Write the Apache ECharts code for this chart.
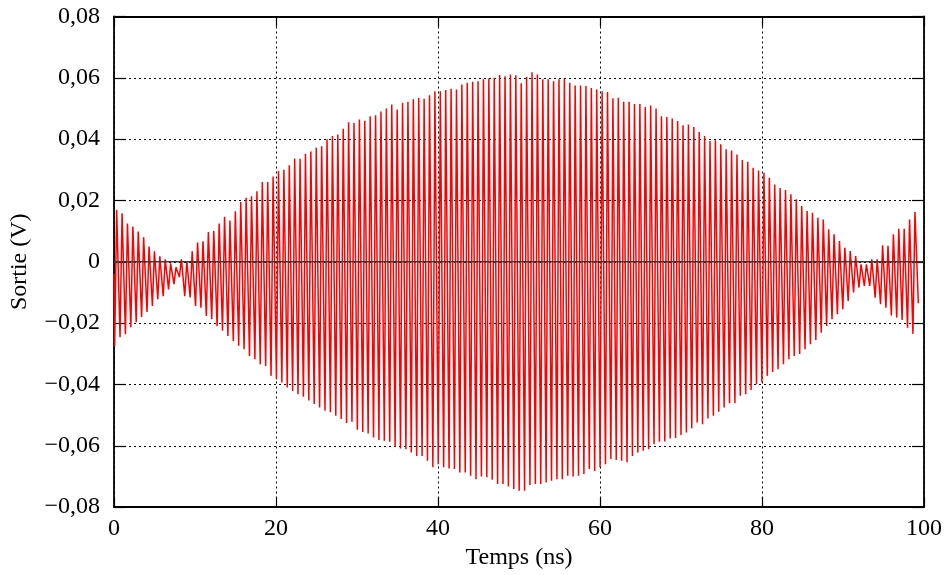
<!DOCTYPE html>
<html>
<head>
<meta charset="utf-8">
<script src="https://cdn.jsdelivr.net/npm/echarts@6/dist/echarts.min.js"></script>
<style>
html,body{margin:0;padding:0;background:#fff;}
#chart{width:945px;height:575px;}
</style>
</head>
<body>
<div id="chart"></div>
<script>
// ---- Data ----
// Oscillation: successive troughs and crests (one pair per cycle), values in volts
const crests = [
 0.017,0.0158,0.0125,0.0115,0.0099,0.008,0.005,0.0034,0.0018,0.0008,
 -0.0005,-0.0018,0.0008,0.0002,0.0034,0.0063,0.0067,0.0097,0.010,0.0125,
 0.0147,0.0135,0.0165,0.0195,0.0209,0.0214,0.023,0.026,0.026,0.0278,
 0.0296,0.030,0.0315,0.0337,0.0336,0.0352,0.036,0.0372,0.0377,0.040,
 0.041,0.0415,0.0434,0.0455,0.0453,0.0464,0.046,0.0475,0.0478,0.049,
 0.050,0.0513,0.0497,0.0519,0.0522,0.053,0.0534,0.0532,0.0543,0.0556,
 0.0556,0.056,0.0564,0.0562,0.0578,0.0584,0.0587,0.0589,0.0595,0.0598,
 0.060,0.0609,0.0605,0.0611,0.0608,0.0582,0.0603,0.0618,0.0611,0.0595,
 0.0595,0.0589,0.0595,0.0597,0.0584,0.0575,0.0575,0.0573,0.0567,0.0562,
 0.0556,0.0554,0.0533,0.0535,0.0522,0.0522,0.0515,0.0515,0.0505,0.051,
 0.050,0.0475,0.0472,0.0467,0.0459,0.0445,0.0448,0.044,0.0423,0.041,
 0.0394,0.0396,0.0383,0.0367,0.0363,0.035,0.0332,0.0326,0.0307,0.0298,
 0.029,0.0274,0.0252,0.0241,0.0234,0.022,0.0204,0.0182,0.0166,0.016,
 0.0144,0.0138,0.0106,0.009,0.0068,0.0046,0.0035,0.0019,-0.0008,-0.0008,
 0.0008,0.0008,0.0054,0.0052,0.009,0.0108,0.0108,0.0138,0.0162
];
const troughs = [
 -0.0276,-0.0246,-0.0236,-0.0213,-0.0197,-0.018,-0.0164,-0.0144,-0.0122,-0.0112,
 -0.009,-0.0073,-0.005,-0.0112,-0.0116,-0.0144,-0.015,-0.0177,-0.0187,-0.021,
 -0.0225,-0.0242,-0.0258,-0.0274,-0.0285,-0.0307,-0.0318,-0.0334,-0.034,-0.0372,
 -0.0383,-0.0394,-0.041,-0.0421,-0.0432,-0.044,-0.0452,-0.0464,-0.0475,-0.0486,
 -0.0491,-0.0502,-0.0513,-0.0526,-0.0522,-0.0548,-0.0555,-0.056,-0.0573,-0.0581,
 -0.0584,-0.0587,-0.0603,-0.0609,-0.0611,-0.0622,-0.0633,-0.0633,-0.0649,-0.067,
 -0.066,-0.067,-0.0674,-0.0676,-0.0687,-0.0687,-0.0698,-0.0709,-0.070,-0.0703,
 -0.0711,-0.0725,-0.0725,-0.0733,-0.0741,-0.0747,-0.0747,-0.0728,-0.0725,-0.0725,
 -0.072,-0.0714,-0.0709,-0.0709,-0.0698,-0.070,-0.0698,-0.0692,-0.0676,-0.0682,
 -0.067,-0.066,-0.0643,-0.0646,-0.0649,-0.0654,-0.0633,-0.0622,-0.0616,-0.0611,
 -0.0595,-0.0587,-0.0586,-0.0576,-0.0575,-0.0565,-0.0557,-0.0543,-0.0524,-0.053,
 -0.0511,-0.0502,-0.0489,-0.0475,-0.0461,-0.0461,-0.0437,-0.0432,-0.0418,-0.0399,
 -0.0394,-0.0372,-0.0359,-0.035,-0.0334,-0.0318,-0.0307,-0.0301,-0.0285,-0.0269,
 -0.0255,-0.0231,-0.0209,-0.0187,-0.0171,-0.0155,-0.0128,-0.010,-0.0084,-0.0079,
 -0.0079,-0.0117,-0.0138,-0.015,-0.0175,-0.0182,-0.019,-0.0215,-0.0235
];
// timing (ns)
const firstCrestTime = 0.33;   // time of first crest
const cyclePeriod = 0.6659;    // time between crests
const troughLead = 0.25;       // trough occurs this long before its crest
const startPoint = [0, -0.004];
const endPoint = [99.3, -0.0135];

const xTicks = [0, 20, 40, 60, 80, 100];
const yTicks = [-0.08, -0.06, -0.04, -0.02, 0, 0.02, 0.04, 0.06, 0.08];
const xTitle = 'Temps (ns)';
const yTitle = 'Sortie (V)';

// ---- Build series data ----
const signal = [startPoint];
for (let k = 0; k < crests.length; k++) {
  const tc = firstCrestTime + k * cyclePeriod;
  signal.push([tc - troughLead, troughs[k]]);
  signal.push([tc, crests[k]]);
}
signal.push(endPoint);

const FONT = '"Liberation Serif", "DejaVu Serif", serif';
const fmtY = v => {
  if (Math.abs(v) < 1e-9) return '0';
  return (v < 0 ? '\u2212' : '') + Math.abs(v).toFixed(2).replace('.', ',');
};

const chart = echarts.init(document.getElementById('chart'), null, {renderer: 'canvas'});
const axisLine = {show: true, onZero: false, lineStyle: {color: '#000', width: 1.8}};
const dotted = {show: true, lineStyle: {color: '#000', width: 1, type: [2, 3]}};
const textBase = {color: '#000', fontFamily: FONT, fontSize: 24};

chart.setOption({
  animation: false,
  backgroundColor: '#fff',
  grid: {left: 112, right: 20, top: 16.5, bottom: 66.5, containLabel: false},
  xAxis: [
    {
      type: 'value', min: xTicks[0], max: xTicks[xTicks.length - 1], interval: 20,
      position: 'bottom',
      axisLine: axisLine,
      axisTick: {show: true, inside: true, length: 10, lineStyle: {color: '#000', width: 1.2}},
      axisLabel: Object.assign({margin: 10}, textBase),
      splitLine: dotted,
      name: xTitle, nameLocation: 'middle', nameGap: 37,
      nameTextStyle: textBase
    },
    {
      type: 'value', min: xTicks[0], max: xTicks[xTicks.length - 1], interval: 20,
      position: 'top',
      axisLine: axisLine,
      axisTick: {show: true, inside: true, length: 10, lineStyle: {color: '#000', width: 1.2}},
      axisLabel: {show: false},
      splitLine: {show: false}
    }
  ],
  yAxis: [
    {
      type: 'value', min: yTicks[0], max: yTicks[yTicks.length - 1], interval: 0.02,
      position: 'left',
      axisLine: axisLine,
      axisTick: {show: true, inside: true, length: 12, lineStyle: {color: '#000', width: 1.2}},
      axisLabel: Object.assign({margin: 14, formatter: fmtY}, textBase),
      splitLine: dotted,
      name: yTitle, nameLocation: 'middle', nameGap: 82, nameRotate: 90,
      nameTextStyle: textBase
    },
    {
      type: 'value', min: yTicks[0], max: yTicks[yTicks.length - 1], interval: 0.02,
      position: 'right',
      axisLine: axisLine,
      axisTick: {show: true, inside: true, length: 12, lineStyle: {color: '#000', width: 1.2}},
      axisLabel: {show: false},
      splitLine: {show: false}
    }
  ],
  series: [
    {
      type: 'line',
      data: signal,
      xAxisIndex: 0, yAxisIndex: 0,
      showSymbol: false,
      symbol: 'none',
      lineStyle: {color: '#ff0000', width: 1.5},
      z: 2
    },
    {
      type: 'line',
      data: [[xTicks[0], 0], [xTicks[xTicks.length - 1], 0]],
      xAxisIndex: 0, yAxisIndex: 0,
      symbol: 'none',
      lineStyle: {color: '#3a3a3a', width: 1.6},
      z: 3
    }
  ]
});
</script>
</body>
</html>
